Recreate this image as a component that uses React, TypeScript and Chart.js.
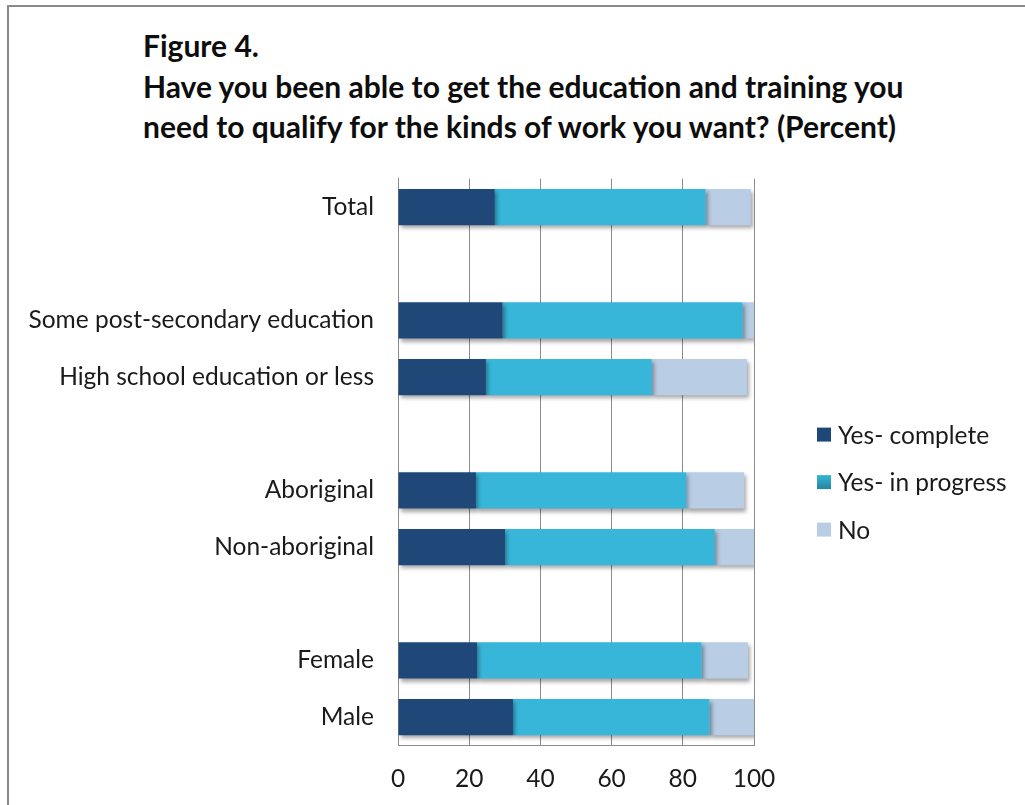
import React, { useEffect, useRef } from "react";
import { Chart, registerables } from "chart.js";

Chart.register(...registerables);

const categories = [
  "Total",
  "",
  "Some post-secondary education",
  "High school education or less",
  "",
  "Aboriginal",
  "Non-aboriginal",
  "",
  "Female",
  "Male",
];

const yesComplete = [27.2, null, 29.4, 24.7, null, 21.9, 30.1, null, 22.2, 32.3];
const yesInProgress = [59.2, null, 67.4, 46.6, null, 59.1, 58.9, null, 63.1, 55.2];
const noValues = [12.7, null, 3.2, 26.7, null, 16.2, 11.0, null, 13.0, 12.5];

const seriesNames = ["Yes- complete", "Yes- in progress", "No"];
const xTicks = [0, 20, 40, 60, 80, 100];

const FONT = "Lato, 'Open Sans', sans-serif";
const DARK = "#1F4878";
const MID_TOP = "#38B6D9";
const MID_BOTTOM = "#26849D";
const LIGHT = "#B9CDE4";
const GRID = "#8C8C8C";

function midGradient(ctx: any) {
  const chart = ctx.chart;
  const el = ctx.element;
  const c = chart.ctx;
  if (!el || el.y === undefined || !el.height) return MID_TOP;
  const top = el.y - el.height / 2;
  const bottom = el.y + el.height / 2;
  const g = c.createLinearGradient(0, top, 0, bottom);
  g.addColorStop(0, MID_TOP);
  g.addColorStop(0.35, "#34AFD1");
  g.addColorStop(1, MID_BOTTOM);
  return g;
}

const shadowPlugin = {
  id: "barShadow",
  beforeDatasetsDraw(chart: any) {
    const c = chart.ctx;
    c.save();
    c.shadowColor = "rgba(0,0,0,0.35)";
    c.shadowBlur = 4;
    c.shadowOffsetX = 2;
    c.shadowOffsetY = 3;
  },
  afterDatasetsDraw(chart: any) {
    chart.ctx.restore();
  },
};

const legendPlugin = {
  id: "sideLegend",
  afterDraw(chart: any) {
    const c = chart.ctx;
    const area = chart.chartArea;
    const mid = (area.top + area.bottom) / 2;
    const boxX = area.right + 63;
    c.save();
    c.font = `24.5px ${FONT}`;
    c.textBaseline = "middle";
    c.textAlign = "left";
    chart.data.datasets.forEach((ds: any, i: number) => {
      const cy = mid - 27.5 + i * 47.5;
      if (i === 1) {
        const g = c.createLinearGradient(0, cy - 7, 0, cy + 7);
        g.addColorStop(0, MID_TOP);
        g.addColorStop(1, MID_BOTTOM);
        c.fillStyle = g;
      } else {
        c.fillStyle = ds.legendColor;
      }
      c.fillRect(boxX, cy - 7, 14, 14);
      c.fillStyle = "#1a1a1a";
      c.fillText(ds.label, boxX + 21, cy + 1);
    });
    c.restore();
  },
};

export default function App() {
  const canvasRef = useRef<HTMLCanvasElement | null>(null);

  useEffect(() => {
    if (!canvasRef.current) return;
    const chart = new Chart(canvasRef.current, {
      type: "bar",
      data: {
        labels: categories,
        datasets: [
          {
            label: seriesNames[0],
            data: yesComplete,
            backgroundColor: DARK,
            legendColor: DARK,
          } as any,
          {
            label: seriesNames[1],
            data: yesInProgress,
            backgroundColor: midGradient,
            legendColor: MID_TOP,
          } as any,
          {
            label: seriesNames[2],
            data: noValues,
            backgroundColor: LIGHT,
            legendColor: LIGHT,
          } as any,
        ],
      },
      plugins: [shadowPlugin, legendPlugin],
      options: {
        indexAxis: "y",
        responsive: false,
        animation: false,
        devicePixelRatio: 1,
        datasets: {
          bar: {
            categoryPercentage: 0.8,
            barPercentage: 0.8,
            borderWidth: 0,
          },
        },
        layout: {
          padding: { top: 24.5, right: 271, left: 0, bottom: 0 },
        },
        plugins: {
          legend: { display: false },
          title: { display: false },
          tooltip: { enabled: false },
        },
        scales: {
          x: {
            type: "linear",
            stacked: true,
            min: 0,
            max: 100,
            afterBuildTicks(scale: any) {
              scale.ticks = xTicks.map((v) => ({ value: v }));
            },
            afterFit(scale: any) {
              scale.height = 59.5;
            },
            grid: {
              color: GRID,
              lineWidth: 1,
              drawTicks: false,
            },
            border: { color: GRID, width: 1 },
            ticks: {
              padding: 19,
              color: "#1a1a1a",
              font: { family: FONT, size: 24.5 },
            },
          },
          y: {
            type: "category",
            stacked: true,
            afterFit(scale: any) {
              scale.width = 389;
            },
            grid: { display: false, drawTicks: false },
            border: { color: GRID, width: 1 },
            ticks: {
              padding: 24,
              color: "#1a1a1a",
              autoSkip: false,
              font: { family: FONT, size: 24.5 },
            },
          },
        },
      } as any,
    });
    return () => chart.destroy();
  }, []);

  return (
    <div
      style={{
        position: "fixed",
        left: 0,
        top: 0,
        width: 1025,
        height: 805,
        overflow: "hidden",
        background: "#fff",
      }}
    >
      <div
        style={{
          position: "absolute",
          left: 7,
          top: 5,
          width: 1100,
          height: 900,
          borderLeft: "2px solid #8a8a8a",
          borderTop: "2px solid #8a8a8a",
        }}
      />
      <div
        style={{
          position: "absolute",
          left: 143,
          top: 25,
          fontFamily: FONT,
          fontWeight: 700,
          fontSize: 30,
          lineHeight: "40.5px",
          color: "#0d0d0d",
          whiteSpace: "nowrap",
        }}
      >
        <div>Figure 4.</div>
        <div>Have you been able to get the education and training you</div>
        <div>need to qualify for the kinds of work you want? (Percent)</div>
      </div>
      <canvas
        ref={canvasRef}
        width={1016}
        height={665}
        style={{ position: "absolute", left: 9, top: 140, width: 1016, height: 665 }}
      />
    </div>
  );
}
